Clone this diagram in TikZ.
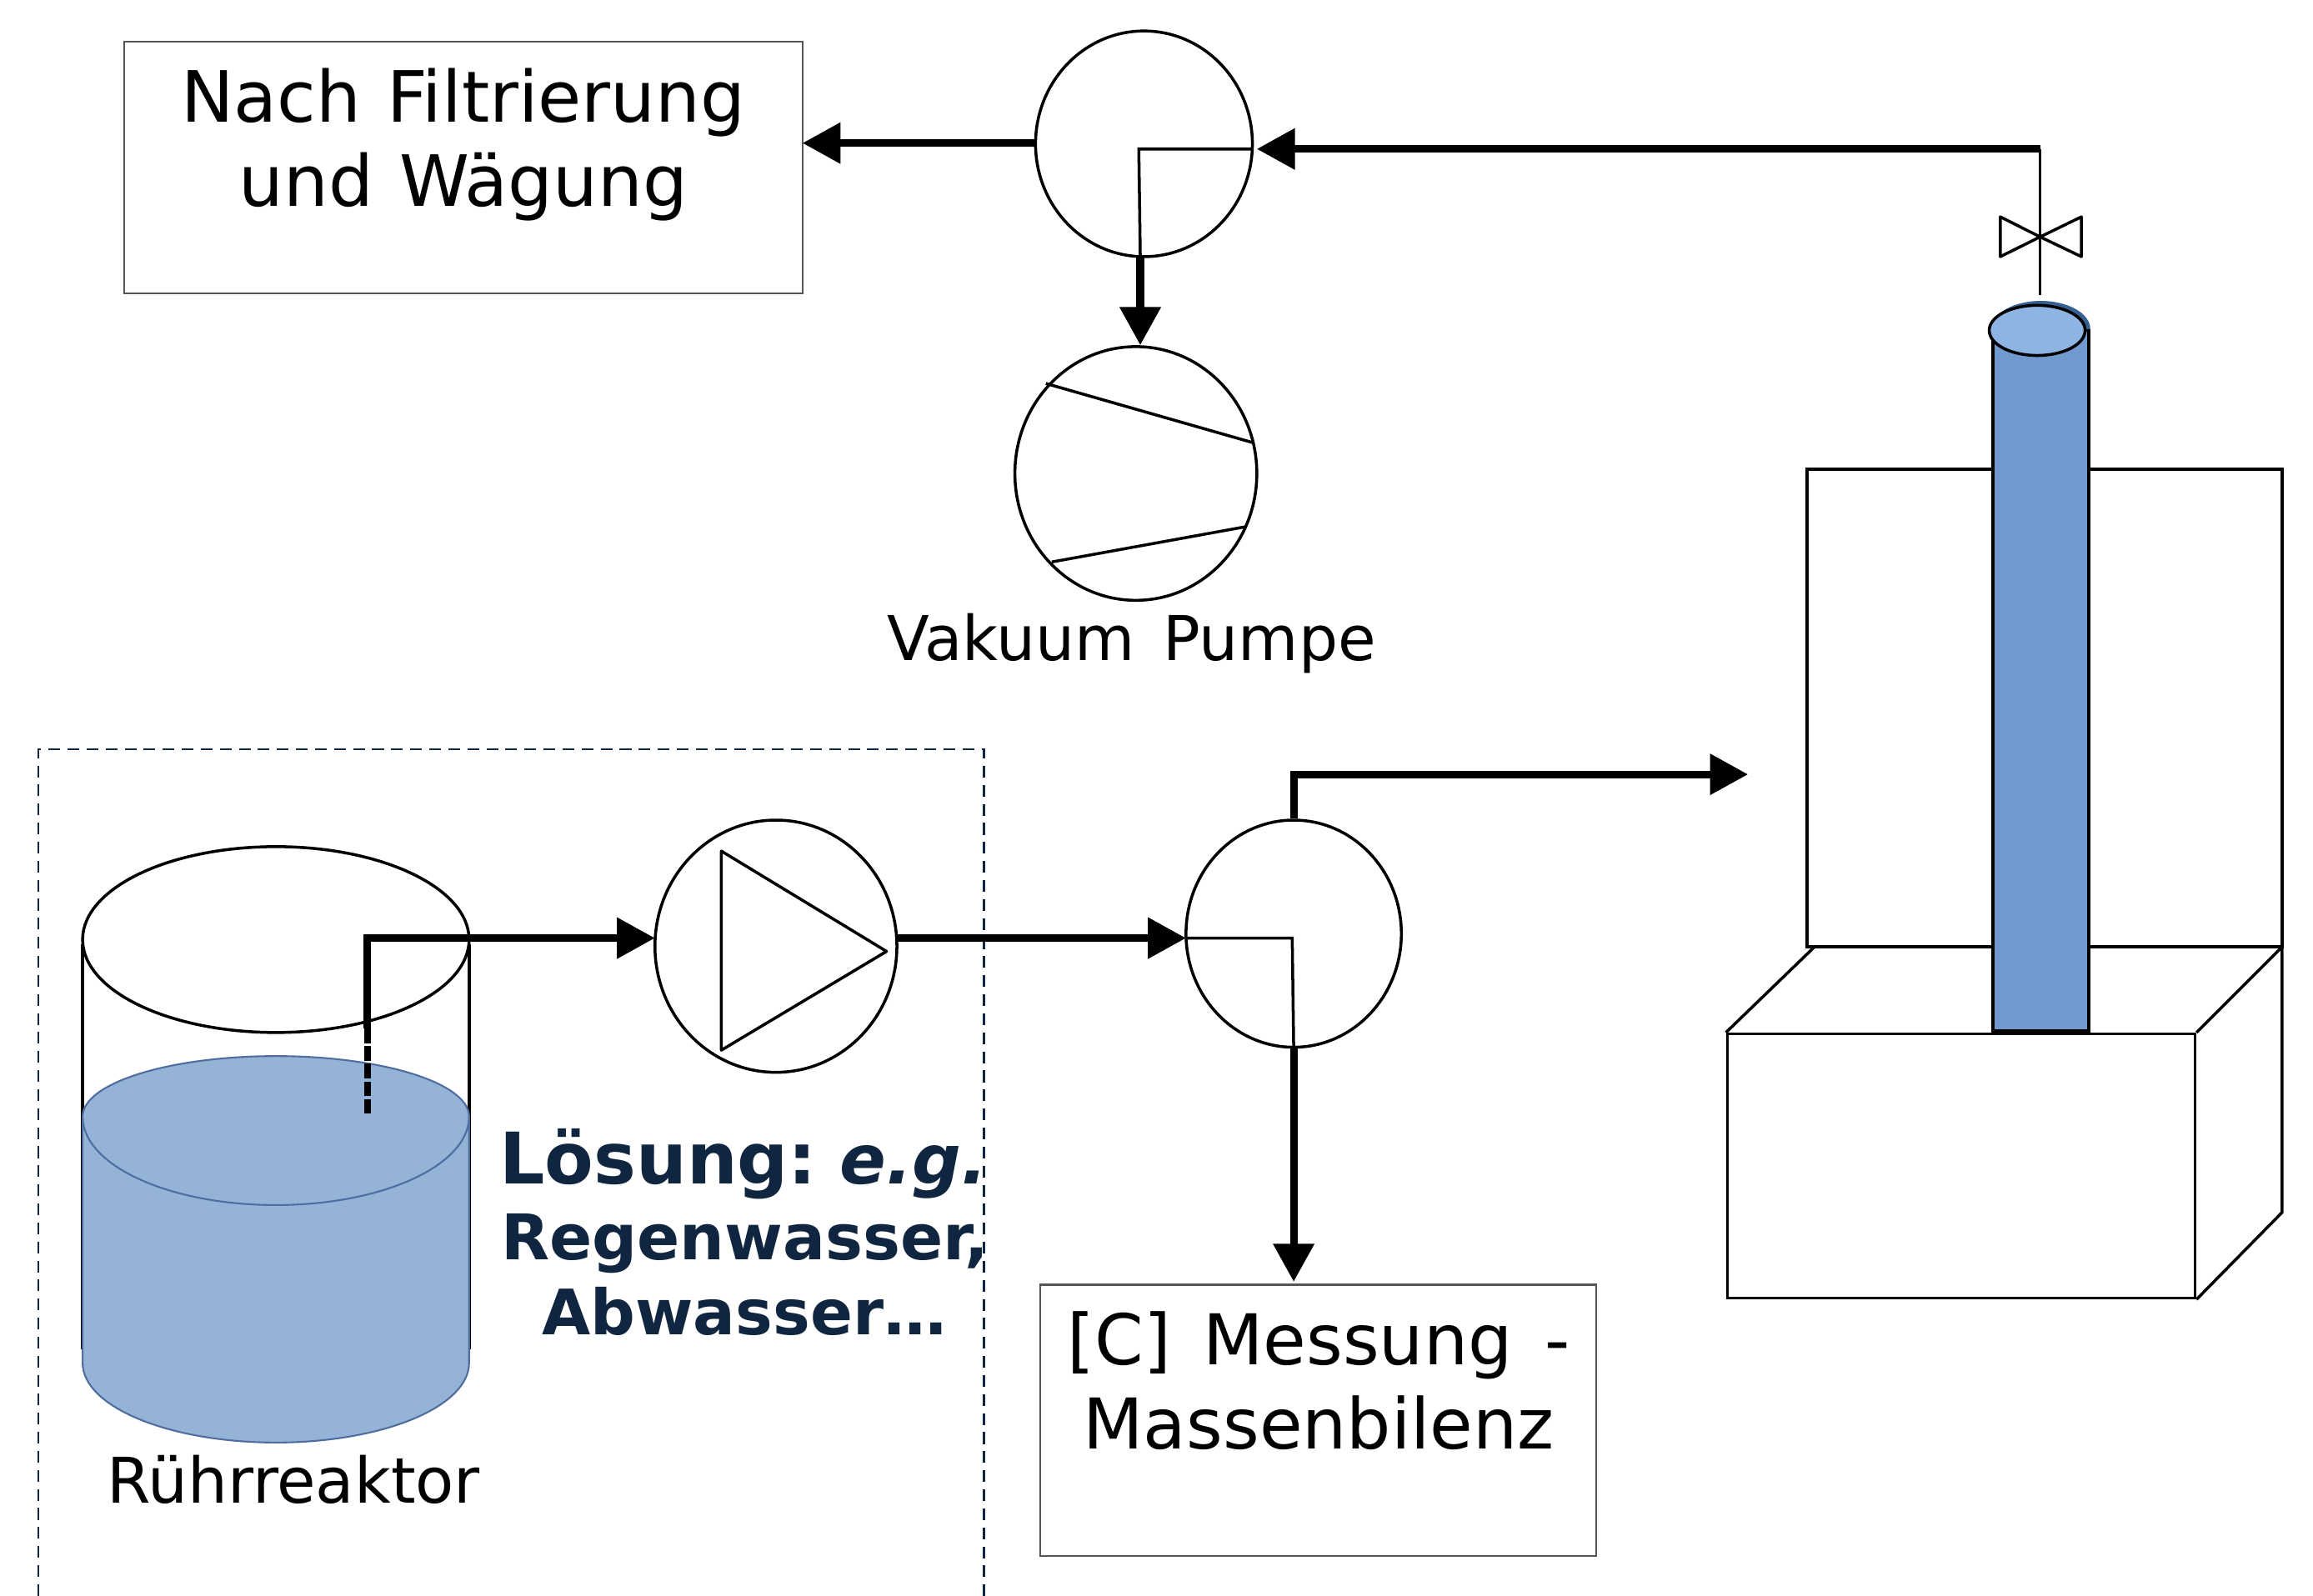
\documentclass[tikz,border=0pt]{standalone}
\usepackage{fontspec}
\setmainfont[WordSpace=1.44]{DejaVu Sans}
\newfontfamily\solfont{DejaVu Sans}
\newfontfamily\topfont[WordSpace=1.15]{DejaVu Sans}
\usetikzlibrary{arrows.meta,shapes.geometric}
\definecolor{navy}{HTML}{10253F}
\definecolor{water}{HTML}{95B3D7}
\definecolor{waterline}{HTML}{4F6D9E}
\definecolor{column}{HTML}{7099CE}
\definecolor{columntop}{HTML}{8EB4E3}
\definecolor{columnshadow}{HTML}{376092}
\definecolor{boxline}{HTML}{555555}
\tikzset{
  x=0.17698mm,y=-0.17699mm,
  thinline/.style={line width=1pt,black},
  pipe/.style={line width=2.6pt,black},
  flow/.style={pipe,-{Triangle[length=13pt,width=13.5pt]}},
  vessel/.style n args={2}{ellipse,draw,line width=1pt,inner sep=0pt,minimum width=#1*0.17698mm,minimum height=#2*0.17699mm},
  plainbox/.style n args={2}{rectangle,draw=boxline,line width=0.6pt,inner sep=0pt,minimum width=#1*0.17698mm,minimum height=#2*0.17699mm},
  solidbox/.style n args={2}{rectangle,draw,line width=1pt,inner sep=0pt,minimum width=#1*0.17698mm,minimum height=#2*0.17699mm},
  lab/.style={align=center,inner sep=0pt,text=black},
  big/.style={font=\fontsize{23.9}{28.7}\selectfont},
  sol/.style={inner sep=0pt,text=navy},
}
\begin{document}
\begin{tikzpicture}
\useasboundingbox (0,0) rectangle (1568,1082);
% dashed frame
\draw[navy,line width=0.7pt,dash pattern=on 4pt off 2.5pt] (26,1082) -- (26,508) -- (667,508) -- (667,1082);
% boxes with text
\node[plainbox={460}{171}] (filter) at (314,113.5) {};
\node[lab,font=\topfont\fontsize{24.15}{28.7}\selectfont] (filtertext) at (314,98) {Nach Filtrierung\\und Wägung};
\node[plainbox={377}{184}] (measure) at (893.5,963) {};
\node[lab,big] (measuretext) at (894,936) {[C] Messung -\\Massenbilenz};
% tank
\draw[thinline] (56,640) -- (56,915) (318,640) -- (318,915);
\fill[water] (56,757) arc[start angle=180,end angle=360,x radius=131,y radius=41]
  -- (318,924) arc[start angle=0,end angle=180,x radius=131,y radius=54] -- cycle;
\draw[waterline,line width=0.6pt] (56,757) arc[start angle=180,end angle=360,x radius=131,y radius=41]
  arc[start angle=0,end angle=180,x radius=131,y radius=60];
\draw[waterline,line width=0.6pt] (56,757) -- (56,924) arc[start angle=180,end angle=0,x radius=131,y radius=54] -- (318,757);
\node[vessel={262}{126}] (tank) at (187,637) {};
\node[lab,font=\fontsize{21.5}{26}\selectfont] (tanklabel) at (199,1003) {Rührreaktor};
% feed pump
\node[vessel={164}{171}] (feedpump) at (526,641.5) {};
\coordinate (tri1) at (489,577);
\coordinate (tri2) at (489,712);
\coordinate (tri3) at (601,645);
\draw[thinline,line join=round] (tri1) -- (tri2) -- (tri3) -- cycle;
% lower valve
\node[vessel={146}{154}] (lowervalve) at (877,633) {};
\coordinate (lvcorner) at (876,636);
\draw[thinline] (804,636) -- (lvcorner) -- (lowervalve.south);
% upper valve
\node[vessel={147}{153}] (uppervalve) at (775.5,97.5) {};
\coordinate (uvin) at (849,101);
\coordinate (uvcorner) at (772,101);
\coordinate (uvout) at (773,174);
\draw[thinline] (uvin) -- (uvcorner) -- (uvout);
% vacuum pump
\node[vessel={164}{172}] (vacpump) at (770,321) {};
\coordinate (vp1) at (709,260);
\coordinate (vp2) at (849,300);
\coordinate (vp3) at (713,381);
\coordinate (vp4) at (845,357);
\draw[thinline] (vp1) -- (vp2) (vp3) -- (vp4);
\node[lab,font=\fontsize{21.1}{26}\selectfont] (vaclabel) at (767,436) {Vakuum Pumpe};
% solution text
\node[sol,font=\solfont\fontsize{24.3}{28}\selectfont\bfseries] (sol1) at (504,789) {Lösung:\hspace{0.32em}{\fontsize{23.4}{28}\selectfont\itshape e.g.}};
\node[sol,font=\solfont\fontsize{21.5}{26}\selectfont\bfseries] (sol2) at (505,843) {Regenwasser,};
\node[sol,font=\solfont\fontsize{21.4}{25}\selectfont\bfseries] (sol3) at (504.5,889) {Abwasser…};
% heater block and furnace
\node[solidbox={322}{324}] (furnace) at (1386,480) {};
\node[solidbox={317}{179}] (block) at (1329.5,790.5) {};
\coordinate (bt1) at (1230,642);
\coordinate (bt2) at (1547,642);
\coordinate (br1) at (1547,822);
\draw[thinline,line join=round] (block.north west) -- (bt1) -- (bt2) -- (br1) -- (block.south east);
\draw[thinline] (block.north east) -- (bt2);
% column
\fill[columnshadow] (1383.5,223) ellipse[x radius=33.5,y radius=19];
\node[rectangle,draw,line width=1pt,fill=column,inner sep=0pt,minimum width=65*0.17698mm,minimum height=475*0.17699mm] (column) at (1383.5,461.5) {};
\draw[line width=1.6pt] (column.south west) -- (column.south east);
\node[ellipse,draw,line width=1pt,fill=columntop,inner sep=0pt,minimum width=65*0.17698mm,minimum height=34*0.17699mm] (columntop) at (1381,224) {};
% hand valve
\coordinate (vtop) at (1383,101);
\coordinate (vbot) at (1383,200);
\coordinate (vmid) at (1383,160.6);
\coordinate (vl1) at (1356,147);
\coordinate (vl2) at (1356,174);
\coordinate (vr1) at (1411,147);
\coordinate (vr2) at (1411,174);
\draw[thinline] (vtop) -- (vbot);
\draw[thinline,line join=round] (vmid) -- (vl1) -- (vl2) -- cycle (vmid) -- (vr1) -- (vr2) -- cycle;
% connectors
\coordinate (dip) at (249,755);
\coordinate (dip2) at (249,697);
\coordinate (dipc) at (249,636);
\coordinate (fpin) at (444,636);
\draw[line width=2.2pt,dash pattern=on 5pt off 1pt] (dip) -- (dip2);
\draw[flow,line join=miter] (dip2) -- (dipc) -- (fpin);
\coordinate (fpout) at (608,636);
\draw[flow] (fpout) -- (804,636);
\draw[flow] (lowervalve.south) -- (877,869);
\coordinate (lvc2) at (877,525);
\coordinate (furn) at (1185,525);
\draw[flow] (lowervalve.north) -- (lvc2) -- (furn);
\draw[flow] (vtop) -- (852,101);
\coordinate (uvw) at (702,97);
\coordinate (boxe) at (544,97);
\draw[flow] (uvw) -- (boxe);
\draw[flow] (uvout) -- (uvout |- vacpump.north);
\end{tikzpicture}
\end{document}
